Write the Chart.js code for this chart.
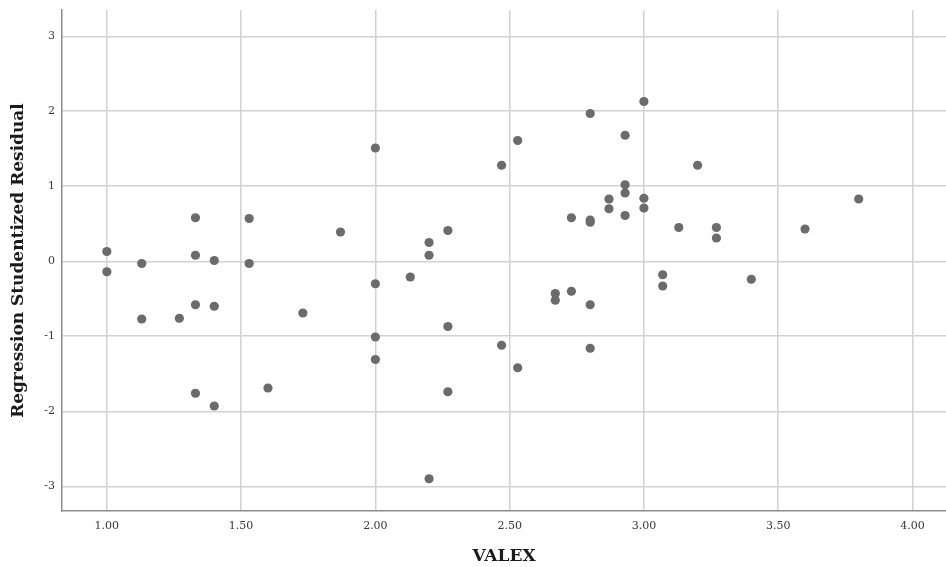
<!DOCTYPE html>
<html>
<head>
<meta charset="utf-8">
<script src="https://cdn.jsdelivr.net/npm/chart.js@4/dist/chart.umd.min.js"></script>
<style>
  html, body { margin: 0; padding: 0; background: #fff; }
  #chart { display: block; }
</style>
</head>
<body>
<canvas id="chart" width="946" height="567"></canvas>
<script>
// VALEX against regression studentized residual
var valex = [
  1.00, 1.00, 1.13, 1.13, 1.27, 1.33, 1.33, 1.33, 1.33, 1.40,
  1.40, 1.40, 1.53, 1.53, 1.60, 1.73, 1.87, 2.00, 2.00, 2.00,
  2.00, 2.13, 2.20, 2.20, 2.20, 2.27, 2.27, 2.27, 2.47, 2.47,
  2.53, 2.53, 2.67, 2.67, 2.73, 2.73, 2.80, 2.80, 2.80, 2.80,
  2.80, 2.87, 2.87, 2.93, 2.93, 2.93, 2.93, 3.00, 3.00, 3.00,
  3.07, 3.07, 3.13, 3.20, 3.27, 3.27, 3.40, 3.60, 3.80
]
var residual = [
  0.13, -0.14, -0.03, -0.77, -0.76, 0.58, 0.08, -0.58, -1.76, 0.01,
  -0.60, -1.93, 0.57, -0.03, -1.69, -0.69, 0.39, 1.51, -0.30, -1.01,
  -1.31, -0.21, 0.25, 0.08, -2.90, 0.41, -0.87, -1.74, 1.28, -1.12,
  1.61, -1.42, -0.43, -0.52, 0.58, -0.40, 1.97, 0.55, 0.52, -0.58,
  -1.16, 0.83, 0.70, 1.68, 1.02, 0.91, 0.61, 2.13, 0.84, 0.71,
  -0.18, -0.33, 0.45, 1.28, 0.45, 0.31, -0.24, 0.43, 0.83
]
var xTicks = [1.00, 1.50, 2.00, 2.50, 3.00, 3.50, 4.00]
var xTickLabels = ['1.00', '1.50', '2.00', '2.50', '3.00', '3.50', '4.00']
var yTicks = [-3, -2, -1, 0, 1, 2, 3]
var yTickLabels = ['-3', '-2', '-1', '0', '1', '2', '3']

var points = valex.map(function (v, i) { return { x: v, y: residual[i] } })

var gridColor = '#d2d2d2'
var axisColor = '#8c8c8c'
var tickFont = { family: 'DejaVu Serif', size: 11 }
var titleFont = { family: 'DejaVu Serif', size: 17, weight: 'bold' }

new Chart(document.getElementById('chart'), {
  type: 'scatter',
  data: {
    datasets: [{
      data: points,
      backgroundColor: '#6b6b6b',
      borderColor: '#6b6b6b',
      borderWidth: 0,
      pointRadius: 4.6,
      pointHoverRadius: 4.6
    }]
  },
  options: {
    responsive: false,
    animation: false,
    layout: {
      autoPadding: false,
      padding: { top: 10, right: 0, left: 0, bottom: 0 }
    },
    plugins: {
      legend: { display: false },
      tooltip: { enabled: false }
    },
    scales: {
      x: {
        type: 'linear',
        min: 0.833,
        max: 4.125,
        afterBuildTicks: function (scale) {
          scale.ticks = xTicks.map(function (v) { return { value: v } })
        },
        afterFit: function (scale) {
          scale.height = 56
          scale.paddingLeft = 0
          scale.paddingRight = 0
        },
        grid: { color: gridColor, lineWidth: 1.5, drawTicks: false },
        border: { display: true, color: axisColor, width: 1.5 },
        ticks: {
          color: '#383838',
          font: tickFont,
          padding: 9,
          callback: function (v) { return xTickLabels[xTicks.indexOf(v)] }
        },
        title: {
          display: true,
          text: 'VALEX',
          color: '#1a1a1a',
          font: titleFont,
          padding: { top: 14, bottom: 0 }
        }
      },
      y: {
        type: 'linear',
        min: -3.33,
        max: 3.35,
        afterBuildTicks: function (scale) {
          scale.ticks = yTicks.map(function (v) { return { value: v } })
        },
        afterFit: function (scale) {
          scale.width = 62
          scale.paddingTop = 0
          scale.paddingBottom = 0
        },
        grid: { color: gridColor, lineWidth: 1.5, drawTicks: false },
        border: { display: true, color: axisColor, width: 1.5 },
        ticks: {
          color: '#383838',
          font: tickFont,
          padding: 7,
          callback: function (v) { return yTickLabels[yTicks.indexOf(v)] }
        },
        title: {
          display: true,
          text: 'Regression Studentized Residual',
          color: '#1a1a1a',
          font: titleFont,
          padding: { top: 8, bottom: 10 }
        }
      }
    }
  }
})
</script>
</body>
</html>
